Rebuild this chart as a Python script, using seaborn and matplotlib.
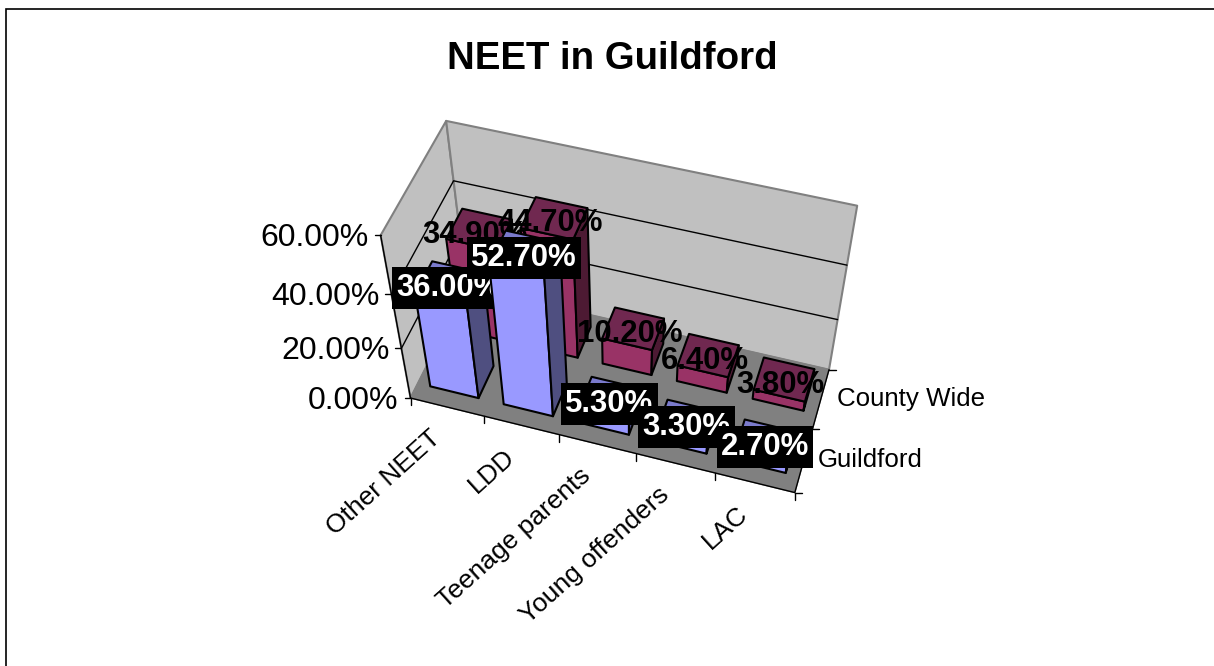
import numpy as np
import pandas as pd
import seaborn as sns
import matplotlib.pyplot as plt
from matplotlib.patches import Polygon, Rectangle

categories = ["Other NEET", "LDD", "Teenage parents", "Young offenders", "LAC"]
series_names = ["Guildford", "County Wide"]
guildford = [36.0, 52.7, 5.3, 3.3, 2.7]
county = [34.9, 44.7, 10.2, 6.4, 3.8]
value_ticks = [0, 20, 40, 60]

df = pd.DataFrame({"Category": categories, "Guildford": guildford, "County Wide": county})
df = df.melt(id_vars="Category", var_name="Series", value_name="Percent")

sns.set_theme(style="white")
plt.rcParams['font.family'] = ['Liberation Sans', 'DejaVu Sans']

# excel style 3d box: fit a camera from where the box corners sit on the page
box = [(0, 0, 0), (5, 0, 0), (5, 2, 0), (0, 2, 0), (0, 0, 60), (0, 2, 60), (5, 2, 60)]
page = [(410, 397), (795, 493), (829, 369), (467, 288), (381, 236), (446, 120), (857, 206)]
rows, rhs = [], []
for (u, v, z), (px, py) in zip(box, page):
    rows.append([u, v, z, 1, 0, 0, 0, 0, -px * u, -px * v, -px * z])
    rows.append([0, 0, 0, 0, u, v, z, 1, -py * u, -py * v, -py * z])
    rhs += [px, py]
cam = np.linalg.lstsq(np.array(rows, float), np.array(rhs, float), rcond=None)[0]
cam = np.append(cam, 1).reshape(3, 4)


def proj(u, v, z):
    p = cam @ np.array([u, v, z, 1.0])
    return p[0] / p[2], p[1] / p[2]


fig = plt.figure(figsize=(12.14, 6.66), dpi=100)
ax = fig.add_axes([0, 0, 1, 1])
ax.set_xlim(0, 1214)
ax.set_ylim(666, 0)
ax.axis("off")

# chart frame runs off the right and bottom of the picture
ax.add_patch(Rectangle((5.5, 8.5), 1300, 700, fc="white", ec="black", lw=1.2))
ax.text(612, 59, "NEET in Guildford", ha="center", va="center", fontsize=27.6, fontweight="bold", color="black")


def face(pts, fc, ec, lw, z=1):
    ax.add_patch(Polygon([proj(*p) for p in pts], closed=True, fc=fc, ec=ec, lw=lw, zorder=z, joinstyle="round"))


# walls and floor
face([(0, 0, 0), (0, 2, 0), (0, 2, 60), (0, 0, 60)], "#c0c0c0", "#808080", 1.5)
face([(0, 2, 0), (5, 2, 0), (5, 2, 60), (0, 2, 60)], "#c0c0c0", "#808080", 1.5)
face([(0, 0, 0), (5, 0, 0), (5, 2, 0), (0, 2, 0)], "#808080", "#808080", 1)

for t in value_ticks[1:3]:
    xs, ys = zip(proj(0, 0, t), proj(0, 2, t), proj(5, 2, t))
    ax.plot(xs, ys, color="black", lw=1, zorder=2)

# axis lines and ticks
xs, ys = zip(proj(0, 0, 60), proj(0, 0, 0), proj(5, 0, 0), proj(5, 2, 0))
ax.plot(xs, ys, color="black", lw=1, zorder=2)
for t in value_ticks:
    x, y = proj(0, 0, t)
    ax.plot([x - 6, x], [y, y], color="black", lw=1, zorder=2)
    ax.text(x - 12, y + 3, f"{t:.2f}%", ha="right", va="center", fontsize=23, color="black", zorder=2)
for i in range(len(categories) + 1):
    x, y = proj(i, 0, 0)
    ax.plot([x, x], [y, y + 7], color="black", lw=1, zorder=2)
for i in range(len(series_names) + 1):
    x, y = proj(5, i, 0)
    ax.plot([x, x + 7], [y, y], color="black", lw=1, zorder=2)
for i, name in enumerate(categories):
    x, y = proj(i + 0.5, 0, 0)
    ax.text(x - 18, y + 19, name, rotation=42, rotation_mode="anchor", ha="right", va="top",
            fontsize=19, color="black", zorder=2)
for i, name in enumerate(series_names):
    x, y = proj(5, i + 0.5, 0)
    ax.text(x + 14 + 2 * i, y + 0, name, ha="left", va="center", fontsize=18.6, color="black", zorder=2)


def bar(i, s, value, colors, order):
    u0, u1 = i + 0.17, i + 0.83
    v0, v1 = s + 0.25, s + 0.8
    front, side, top = colors
    face([(u0, v0, 0), (u1, v0, 0), (u1, v0, value), (u0, v0, value)], front, "black", 1.5, order)
    face([(u1, v0, 0), (u1, v1, 0), (u1, v1, value), (u1, v0, value)], side, "black", 1.5, order)
    face([(u0, v0, value), (u1, v0, value), (u1, v1, value), (u0, v1, value)], top, "black", 1.5, order)


blue = sns.color_palette(["#9999ff", "#4f4f80", "#7a7acc"])
plum = sns.color_palette(["#993366", "#4d1a33", "#702850"])

order = 10
county_rows = df[df["Series"] == "County Wide"].reset_index(drop=True)
for i, row in county_rows.iterrows():
    bar(i, 1, row["Percent"], plum, order)
for i, row in county_rows.iterrows():
    x, y = proj(i + 0.5, 1.5, row["Percent"])
    ax.text(x - 3, y + 4, f"{row['Percent']:.2f}%", ha="center", va="center", fontsize=22.4, fontweight="bold",
            color="black", zorder=order + 1)

# label boxes are taller than the text, so size them from the drawn text
order = 20
renderer = fig.canvas.get_renderer()
for i, row in df[df["Series"] == "Guildford"].reset_index(drop=True).iterrows():
    bar(i, 0, row["Percent"], blue, order)
    x, y = proj(i + 0.5, 0.5, row["Percent"])
    y = y + 3
    label = ax.text(x, y, f"{row['Percent']:.2f}%", ha="center", va="center", fontsize=22.4, fontweight="bold",
                    color="white", zorder=order + 2)
    w = label.get_window_extent(renderer).width + 8
    ax.add_patch(Rectangle((x - w / 2, y - 21), w, 42, fc="black", ec="none", zorder=order + 1))
    order += 3

fig.savefig("out.png", dpi=100)
